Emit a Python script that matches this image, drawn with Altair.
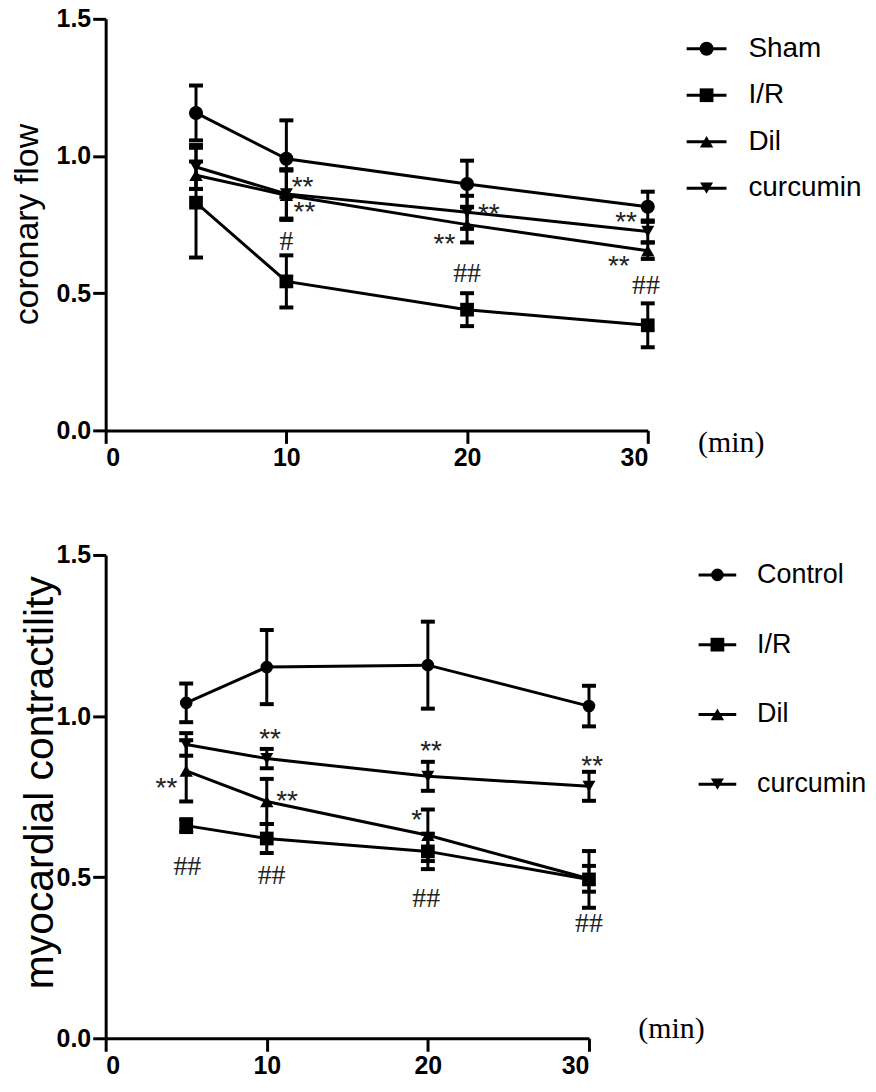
import altair as alt
import pandas as pd

times = [5, 10, 20, 30]
x_ticks = [0, 10, 20, 30]
y_ticks = [0.0, 0.5, 1.0, 1.5]
shapes = ["circle", "square", "triangle-up", "triangle-down"]

# ---- top panel: coronary flow ----
top_groups = ["Sham", "I/R", "Dil", "curcumin"]
top_sham = [1.157, 0.99, 0.898, 0.815]
top_sham_sem = [0.10, 0.14, 0.085, 0.055]
top_ir = [0.83, 0.543, 0.44, 0.383]
top_ir_sem = [0.20, 0.095, 0.06, 0.08]
top_dil = [0.93, 0.857, 0.75, 0.655]
top_dil_sem = [0.05, 0.09, 0.065, 0.03]
top_cur = [0.96, 0.862, 0.795, 0.725]
top_cur_sem = [0.08, 0.09, 0.06, 0.04]
top_ann_x = [10.9, 11.0, 10.0, 21.2, 18.75, 20.0, 28.8, 28.4, 29.9]
top_ann_y = [0.912, 0.821, 0.686, 0.814, 0.704, 0.569, 0.785, 0.624, 0.526]
top_ann_text = ["**", "**", "#", "**", "**", "##", "**", "**", "##"]

# ---- bottom panel: myocardial contractility ----
bot_groups = ["Control", "I/R", "Dil", "curcumin"]
bot_ctrl = [1.041, 1.152, 1.158, 1.031]
bot_ctrl_sem = [0.06, 0.115, 0.135, 0.063]
bot_ir = [0.66, 0.62, 0.58, 0.493]
bot_ir_sem = [0.02, 0.045, 0.055, 0.088]
bot_dil = [0.83, 0.735, 0.63, 0.495]
bot_dil_sem = [0.095, 0.07, 0.08, 0.04]
bot_cur = [0.912, 0.868, 0.813, 0.782]
bot_cur_sem = [0.035, 0.03, 0.045, 0.045]
bot_ann_x = [3.77, 5.07, 10.2, 11.26, 10.3, 20.2, 19.3, 19.9, 30.2, 30.0]
bot_ann_y = [0.798, 0.532, 0.95, 0.758, 0.505, 0.912, 0.70, 0.433, 0.866, 0.355]
bot_ann_text = ["**", "##", "**", "**", "##", "**", "*", "##", "**", "##"]

SANS = "Liberation Sans, Arial"
SERIF = "Liberation Serif, Times New Roman"


def make_df(groups, means, sems):
    rows = []
    for g, m, s in zip(groups, means, sems):
        for t, v, e in zip(times, m, s):
            rows.append({"group": g, "time": t, "value": v, "lo": v - e, "hi": v + e})
    return pd.DataFrame(rows)


def panel(groups, means, sems, ax, ay, atext, ytitle, ytitle_size,
          ytitle_x, ytitle_y, min_x, min_y, width, height, sizes, lw):
    df = make_df(groups, means, sems)
    ann = pd.DataFrame({"x": ax, "y": ay, "t": atext})
    xscale = alt.Scale(domain=[0, 30], nice=False, zero=False)
    yscale = alt.Scale(domain=[0, 1.5], nice=False)
    x = alt.X("time:Q", scale=xscale, axis=alt.Axis(
        values=x_ticks, format="d", title="(min)", titleX=min_x, titleY=min_y,
        titleAlign="left", titleAngle=0, titleBaseline="middle",
        titleFont=SERIF, titleFontSize=30, titleFontWeight="normal",
        labelPadding=2))
    y = alt.Y("value:Q", scale=yscale, axis=alt.Axis(
        values=y_ticks, format=".1f", title=ytitle, titleX=ytitle_x,
        titleY=ytitle_y, titleBaseline="alphabetic", titleFont=SANS,
        titleFontSize=ytitle_size, titleFontWeight="normal", labelPadding=2))
    base = alt.Chart(df)
    lines = base.mark_line(color="black", strokeWidth=lw).encode(
        x=x, y=y, detail="group:N", order="time:Q")
    err = base.mark_rule(color="black", strokeWidth=3).encode(
        x="time:Q", y="lo:Q", y2="hi:Q")
    cap_lo = base.mark_tick(orient="horizontal", color="black", thickness=4,
                            size=14, opacity=1).encode(x="time:Q", y="lo:Q")
    cap_hi = base.mark_tick(orient="horizontal", color="black", thickness=4,
                            size=14, opacity=1).encode(x="time:Q", y="hi:Q")
    pts = base.mark_point(filled=True, color="black", opacity=1).encode(
        x="time:Q", y="value:Q",
        shape=alt.Shape("group:N", scale=alt.Scale(domain=groups, range=shapes), legend=None),
        size=alt.Size("group:N", scale=alt.Scale(domain=groups, range=sizes), legend=None))
    abase = alt.Chart(ann)
    stars = abase.transform_filter("indexof(datum.t, '*') >= 0").mark_text(
        font=SANS, fontSize=28, color="#222", dy=8,
        align="center", baseline="middle").encode(x="x:Q", y="y:Q", text="t:N")
    hashes = abase.transform_filter("indexof(datum.t, '#') >= 0").mark_text(
        font=SERIF, fontSize=28, color="#222",
        align="center", baseline="middle").encode(x="x:Q", y="y:Q", text="t:N")
    return alt.layer(lines, err, cap_lo, cap_hi, pts, stars, hashes).properties(
        width=width, height=height)


def legend_panel(groups, fsize, width, height, pad, sizes):
    ldf = pd.DataFrame({"group": groups})
    lx = alt.Scale(domain=[0, 9], nice=False, zero=False)
    ly = alt.Y("group:N", sort=groups,
               scale=alt.Scale(domain=groups, type="point", padding=pad), axis=None)
    base = alt.Chart(ldf)
    rule = base.mark_rule(color="black", strokeWidth=3).encode(
        x=alt.XDatum(0, type="quantitative", scale=lx, axis=None),
        x2=alt.X2Datum(2), y=ly)
    sym = base.mark_point(filled=True, color="black", opacity=1).encode(
        x=alt.XDatum(1, type="quantitative"), y=ly,
        shape=alt.Shape("group:N", scale=alt.Scale(domain=groups, range=shapes), legend=None),
        size=alt.Size("group:N", scale=alt.Scale(domain=groups, range=sizes), legend=None))
    txt = base.mark_text(align="left", baseline="middle", font=SANS, fontSize=fsize,
                         color="black", dx=2).encode(
        x=alt.XDatum(3, type="quantitative"), y=ly, text="group:N")
    return alt.layer(rule, sym, txt).properties(width=width, height=height)


top_sizes = [200, 160, 220, 220]
bot_sizes = [150, 170, 200, 200]

top = panel(top_groups, [top_sham, top_ir, top_dil, top_cur],
            [top_sham_sem, top_ir_sem, top_dil_sem, top_cur_sem],
            top_ann_x, top_ann_y, top_ann_text, "coronary flow", 34,
            -68, 206, 594, 12, 544, 413, top_sizes, 3)
top_leg = legend_panel(top_groups, 28, 180, 200, 0.643, top_sizes)

bot = panel(bot_groups, [bot_ctrl, bot_ir, bot_dil, bot_cur],
            [bot_ctrl_sem, bot_ir_sem, bot_dil_sem, bot_cur_sem],
            bot_ann_x, bot_ann_y, bot_ann_text, "myocardial contractility", 41,
            -53, 228, 534, -10, 485, 485, bot_sizes, 3)
bot_leg = legend_panel(bot_groups, 27, 170, 250, 0.286, bot_sizes)

row1 = alt.hconcat(top, top_leg, spacing=39, bounds="flush")
row2 = alt.hconcat(bot, bot_leg, spacing=110, bounds="flush")

chart = alt.vconcat(row1, row2, spacing=73).properties(
    padding={"left": 3, "top": -3, "right": 0, "bottom": 0},
    background="white",
).configure_view(stroke=None).configure_axis(
    grid=False, domainColor="black", domainWidth=3, tickColor="black",
    tickWidth=3, tickSize=13, labelColor="black", titleColor="black",
    labelFont=SANS, labelFontWeight="bold", labelFontSize=25,
)

chart.save("out.html", embed_options={"renderer": "svg", "actions": False})
